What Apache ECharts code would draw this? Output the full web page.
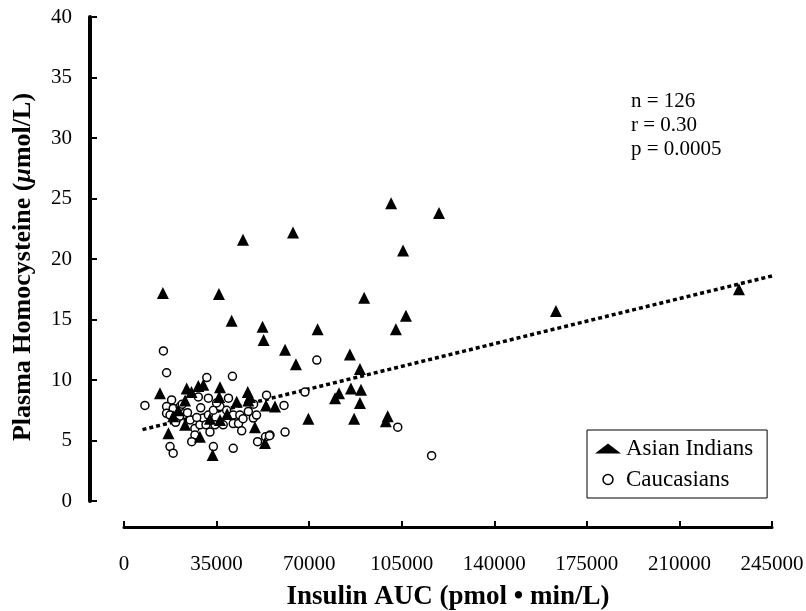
<!DOCTYPE html>
<html>
<head>
<meta charset="utf-8">
<script src="https://cdn.jsdelivr.net/npm/echarts@6/dist/echarts.min.js"></script>
<style>html,body{margin:0;padding:0;background:#fff;}#c{width:806px;height:611px;}</style>
</head>
<body>
<div id="c"></div>
<script>
const xTicks = [0, 35000, 70000, 105000, 140000, 175000, 210000, 245000];
const yTicks = [0, 5, 10, 15, 20, 25, 30, 35, 40];

const asianIndians = [
  [14700, 17.2], [35900, 17.1], [45000, 21.6], [63900, 22.2], [40700, 14.9],
  [52400, 14.4], [52800, 13.3], [60900, 12.5], [65000, 11.3], [73200, 14.2],
  [90800, 16.8], [101000, 24.6], [105500, 20.7], [119100, 23.8], [102800, 14.2],
  [106600, 15.3], [85400, 12.1], [89200, 10.9], [85800, 9.3], [89600, 9.2],
  [81300, 8.9], [79800, 8.5], [89200, 8.1], [53700, 7.9], [57100, 7.8],
  [69700, 6.8], [87000, 6.8], [99700, 7.0], [99000, 6.6], [53300, 4.8],
  [163300, 15.7], [232500, 17.5], [13600, 8.9], [23700, 9.3], [25500, 9.0],
  [28100, 9.5], [30000, 9.6], [36300, 9.4], [36000, 8.6], [23100, 8.3],
  [42600, 8.2], [46800, 9.0], [47600, 8.6], [16800, 5.6], [18600, 7.0],
  [23100, 6.3], [28700, 5.3], [36300, 6.7], [32500, 6.8], [49500, 6.1],
  [33500, 3.8], [47000, 8.3], [20500, 7.5], [39000, 7.2]
];

const caucasians = [
  [14900, 12.4], [16100, 10.6], [7900, 7.9], [31300, 10.2], [41000, 10.3],
  [18000, 8.35], [16100, 7.8], [16100, 7.25], [18600, 7.65], [21200, 7.8],
  [17400, 7.1], [25000, 6.7], [26800, 6.0], [28700, 6.3], [30000, 6.85],
  [31900, 7.1], [33800, 7.5], [36300, 7.8], [38800, 7.5], [41300, 7.1],
  [41300, 6.4], [43300, 6.4], [37500, 6.3], [34400, 6.3], [32500, 5.7],
  [26800, 5.45], [25600, 4.9], [17400, 4.5], [18600, 3.95], [33800, 4.5],
  [41300, 4.35], [48900, 6.85], [50100, 7.1], [53900, 8.75], [53500, 5.3],
  [55200, 5.45], [43800, 7.1], [47000, 7.4], [31900, 8.5], [28100, 8.6],
  [72900, 11.65], [68400, 9.0], [60500, 7.9], [60900, 5.7], [103500, 6.1],
  [116300, 3.75], [22000, 8.0], [24000, 7.3], [29000, 7.7], [35000, 8.1],
  [39500, 8.5], [45000, 6.8], [49000, 8.0], [21000, 7.0], [19500, 6.5],
  [27500, 6.9], [44500, 5.8], [50500, 4.9], [31000, 6.3], [55000, 5.4]
];

const trendLine = [[7000, 5.9], [245000, 18.6]];

const statsText = ['n = 126', 'r = 0.30', 'p = 0.0005'];

const FONT = '"Liberation Serif", "Times New Roman", serif';

const chart = echarts.init(document.getElementById('c'), null, {renderer: 'canvas'});
chart.setOption({
  animation: false,
  backgroundColor: '#fff',
  grid: {left: 124, right: 34, top: 17, bottom: 110, containLabel: false, outerBoundsMode: 'none'},
  xAxis: {
    type: 'value',
    min: xTicks[0], max: xTicks[xTicks.length - 1], interval: xTicks[1] - xTicks[0],
    offset: 26,
    name: 'Insulin AUC (pmol • min/L)',
    nameLocation: 'middle',
    nameGap: 57,
    nameTextStyle: {fontFamily: FONT, fontWeight: 'bold', fontSize: 27, color: '#000'},
    axisLine: {show: true, onZero: false, lineStyle: {color: '#000', width: 3}},
    axisTick: {show: true, inside: true, length: 6, lineStyle: {color: '#000', width: 2}},
    axisLabel: {fontFamily: FONT, fontSize: 21, color: '#000', margin: 27, formatter: v => String(v)},
    splitLine: {show: false}
  },
  yAxis: {
    type: 'value',
    min: yTicks[0], max: yTicks[yTicks.length - 1], interval: yTicks[1] - yTicks[0],
    offset: 34,
    name: '{b|Plasma Homocysteine (}{i|μ}{b|mol/L)}',
    nameLocation: 'middle',
    nameGap: 54,
    nameRotate: 90,
    nameTextStyle: {
      fontFamily: FONT, fontSize: 26, color: '#000',
      padding: [0, 16, 0, 0],
      rich: {
        b: {fontFamily: FONT, fontWeight: 'bold', fontSize: 26, color: '#000'},
        i: {fontFamily: FONT, fontWeight: 'bold', fontStyle: 'italic', fontSize: 26, color: '#000'}
      }
    },
    axisLine: {show: true, onZero: false, lineStyle: {color: '#000', width: 4}},
    axisTick: {show: true, inside: true, length: 7, lineStyle: {color: '#000', width: 2}},
    axisLabel: {fontFamily: FONT, fontSize: 21, color: '#000', margin: 18, formatter: v => String(v)},
    splitLine: {show: false}
  },
  legend: {
    orient: 'vertical',
    left: 587, top: 430,
    borderColor: '#000', borderWidth: 1,
    padding: [7, 14, 7, 8],
    itemGap: 8,
    itemWidth: 26, itemHeight: 10,
    textStyle: {fontFamily: FONT, fontSize: 23, color: '#000'},
    data: [
      {name: 'Asian Indians', icon: 'triangle', itemStyle: {color: '#000'}},
      {name: 'Caucasians', icon: 'circle', itemStyle: {color: '#fff', borderColor: '#000', borderWidth: 1.5}}
    ]
  },
  graphic: [{
    type: 'text', left: 631, top: 89,
    style: {text: statsText.join('\n'), font: '21px ' + FONT, fill: '#000', lineHeight: 24}
  }],
  series: [
    {
      name: 'Trend', type: 'line', data: trendLine, symbol: 'none', silent: true,
      lineStyle: {color: '#000', width: 3.5, type: [4, 3], cap: 'butt'}, z: 1
    },
    {
      name: 'Caucasians', type: 'scatter', data: caucasians, symbol: 'circle', symbolSize: 8,
      itemStyle: {color: '#fff', borderColor: '#000', borderWidth: 1.5, opacity: 1}, z: 2
    },
    {
      name: 'Asian Indians', type: 'scatter', data: asianIndians, symbol: 'triangle', symbolSize: [12, 12],
      itemStyle: {color: '#000', opacity: 1}, z: 3
    }
  ]
});
</script>
</body>
</html>
